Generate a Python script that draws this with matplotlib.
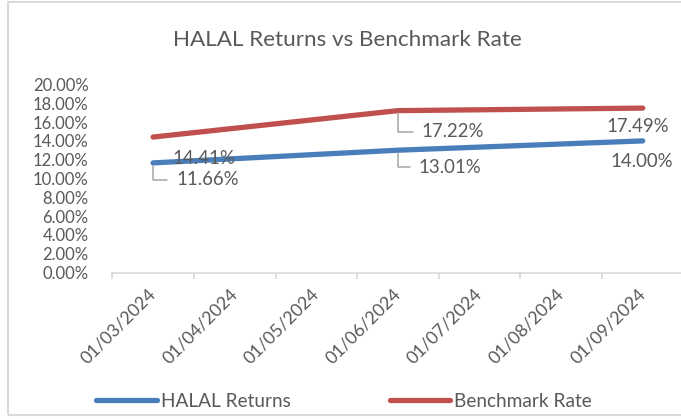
import matplotlib
matplotlib.use("Agg")
import matplotlib.pyplot as plt
from matplotlib.patches import Rectangle
from matplotlib.lines import Line2D

plt.rcParams['font.family'] = ['Lato', 'DejaVu Sans']

categories = ["01/03/2024", "01/04/2024", "01/05/2024", "01/06/2024",
              "01/07/2024", "01/08/2024", "01/09/2024"]
point_idx = [0, 3, 6]
halal = [0.1166, 0.1301, 0.1400]
bench = [0.1441, 0.1722, 0.1749]
halal_labels = ["11.66%", "13.01%", "14.00%"]
bench_labels = ["14.41%", "17.22%", "17.49%"]
yticks = [i / 100 for i in range(0, 21, 2)]

BLUE = "#4A7EBB"
RED = "#C0504D"
TXT = "#595959"
GRID = "#D9D9D9"

W, H = 681, 419
fig = plt.figure(figsize=(W / 100, H / 100), dpi=100)
ax = fig.add_axes([112.3 / W, 1 - 272.5 / H, 571.2 / W, 188 / H])

ax.plot(point_idx, halal, color=BLUE, lw=3.8, solid_capstyle='round', zorder=3)
ax.plot(point_idx, bench, color=RED, lw=3.8, solid_capstyle='round', zorder=3)

ax.set_xlim(-0.5, 6.5)
ax.set_ylim(0, 0.2)
ax.set_yticks(yticks)
ax.set_yticklabels([f"{v*100:.2f}%" for v in yticks], color=TXT, fontsize=12)
ax.tick_params(axis='y', length=0, pad=17)

ax.set_xticks([i - 0.5 for i in range(len(categories) + 1)])
ax.set_xticklabels([])
ax.set_xticks(range(len(categories)), minor=True)
ax.set_xticklabels(categories, minor=True, rotation=45, ha='right', va='center',
                   rotation_mode='anchor', color=TXT, fontsize=12.8)
ax.tick_params(axis='x', which='major', length=4, color=GRID, width=1.2, direction='out')
ax.tick_params(axis='x', which='minor', length=0, pad=14)

for s in ['top', 'right', 'left']:
    ax.spines[s].set_visible(False)
ax.spines['bottom'].set_color(GRID)
ax.spines['bottom'].set_linewidth(1.2)


def label(x, y, txt, dx, dy, leader):
    ax.annotate(txt, (x, y), xytext=(dx, -dy), textcoords='offset pixels',
                ha='left', va='center', color=TXT, fontsize=13.4, zorder=4)
    if leader:
        ax.annotate("", (x, y), xytext=(dx - 9, -dy), textcoords='offset pixels',
                    arrowprops=dict(arrowstyle='-', color='#A6A6A6', lw=1.1,
                                    shrinkA=0, shrinkB=2,
                                    connectionstyle="angle,angleA=0,angleB=90,rad=0"))


label(point_idx[0], halal[0], halal_labels[0], 23, 17, True)
label(point_idx[1], halal[1], halal_labels[1], 21, 17, True)
label(point_idx[2], halal[2], halal_labels[2], -32, 21, False)
label(point_idx[0], bench[0], bench_labels[0], 19, 21, False)
label(point_idx[1], bench[1], bench_labels[1], 24, 21, True)
label(point_idx[2], bench[2], bench_labels[2], -36, 18, False)

fig.text(347 / W, 1 - 40 / H, "HALAL Returns vs Benchmark Rate", ha='center', va='center',
         color=TXT, fontsize=16.2)

handles = [Line2D([], [], color=BLUE, lw=3.8, solid_capstyle='round'),
           Line2D([], [], color=RED, lw=3.8, solid_capstyle='round')]
fig.legend(handles, ["HALAL Returns", "Benchmark Rate"], loc='center',
           bbox_to_anchor=(344 / W, 1 - 401 / H), ncol=2, frameon=False,
           fontsize=13.7, handlelength=3.2, handletextpad=0.2, columnspacing=5.2,
           labelcolor=TXT)

fig.add_artist(Rectangle((7.5 / W, 4.5 / H), 690 / W, 412 / H, transform=fig.transFigure,
                         fill=False, edgecolor=GRID, lw=1.5))

fig.savefig("out.png", dpi=100)
